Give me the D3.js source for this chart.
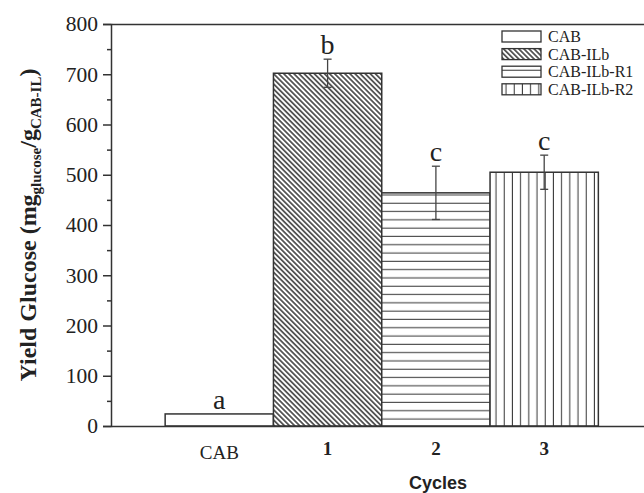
<!DOCTYPE html>
<html>
<head>
<meta charset="utf-8">
<script src="https://cdn.jsdelivr.net/npm/d3@7"></script>
<style>
  body { margin: 0; background: #fff; }
  svg { display: block; }
  .serif { font-family: "Liberation Serif", "DejaVu Serif", serif; fill: #222; }
</style>
</head>
<body>
<script>
// data
const categories = ["CAB", "1", "2", "3"];
const series = ["CAB", "CAB-ILb", "CAB-ILb-R1", "CAB-ILb-R2"];
const values = [24, 702, 464, 505];
const errors = [0, 28, 53, 34];
const letters = ["a", "b", "c", "c"];
const yTicks = [0, 100, 200, 300, 400, 500, 600, 700, 800];

const svgWidth = 644;
const svgHeight = 493;
const margin = { top: 24, left: 111, bottom: 67 };
const plotBottom = svgHeight - margin.bottom;

const svg = d3.select("body").append("svg")
  .attr("width", svgWidth).attr("height", svgHeight);

// patterns
const defs = svg.append("defs");
const diag = defs.append("pattern").attr("id", "p1")
  .attr("patternUnits", "userSpaceOnUse").attr("width", 3.6).attr("height", 4)
  .attr("patternTransform", "rotate(-45)");
diag.append("rect").attr("width", 3.6).attr("height", 4).attr("fill", "#fff");
diag.append("line").attr("x1", 0.9).attr("y1", 0).attr("x2", 0.9).attr("y2", 4)
  .attr("stroke", "#333").attr("stroke-width", 1.5);

const horiz = defs.append("pattern").attr("id", "p2")
  .attr("patternUnits", "userSpaceOnUse").attr("width", 8).attr("height", 8.3);
horiz.append("rect").attr("width", 8).attr("height", 8.3).attr("fill", "#fff");
horiz.append("line").attr("x1", 0).attr("y1", 4).attr("x2", 8).attr("y2", 4)
  .attr("stroke", "#333").attr("stroke-width", 1);

const vert = defs.append("pattern").attr("id", "p3")
  .attr("patternUnits", "userSpaceOnUse").attr("width", 8.2).attr("height", 8);
vert.append("rect").attr("width", 8.2).attr("height", 8).attr("fill", "#fff");
vert.append("line").attr("x1", 4).attr("y1", 0).attr("x2", 4).attr("y2", 8)
  .attr("stroke", "#333").attr("stroke-width", 1);

const fills = ["#fff", "url(#p1)", "url(#p2)", "url(#p3)"];

// scales
const x = d3.scaleLinear().domain([0, 5]).range([margin.left, margin.left + 5 * 108.3]);
const y = d3.scaleLinear().domain([0, 800]).range([plotBottom, margin.top]);

// bars
svg.selectAll(".bar").data(values).enter().append("rect")
  .attr("x", (d, i) => x(i + 0.5))
  .attr("y", d => y(d))
  .attr("width", x(1) - x(0))
  .attr("height", d => y(0) - y(d))
  .attr("fill", (d, i) => fills[i])
  .attr("stroke", "#333").attr("stroke-width", 1.5);

// error bars
const eb = svg.selectAll(".err").data(values.map((v, i) => ({ v, e: errors[i], i })).filter(d => d.e > 0))
  .enter().append("g").attr("stroke", "#444").attr("stroke-width", 1.3);
eb.append("line").attr("x1", d => x(d.i + 1)).attr("x2", d => x(d.i + 1))
  .attr("y1", d => y(d.v + d.e)).attr("y2", d => y(d.v - d.e));
eb.append("line").attr("x1", d => x(d.i + 1) - 4).attr("x2", d => x(d.i + 1) + 4)
  .attr("y1", d => y(d.v + d.e)).attr("y2", d => y(d.v + d.e));
eb.append("line").attr("x1", d => x(d.i + 1) - 4).attr("x2", d => x(d.i + 1) + 4)
  .attr("y1", d => y(d.v - d.e)).attr("y2", d => y(d.v - d.e));

// significance letters
svg.selectAll(".let").data(letters).enter().append("text")
  .attr("class", "serif")
  .attr("x", (d, i) => x(i + 1))
  .attr("y", (d, i) => y(values[i] + errors[i]) - 5)
  .attr("text-anchor", "middle")
  .attr("font-size", 28)
  .text(d => d);

// axes
const leftAxis = d3.axisLeft(y).tickValues(yTicks).tickSize(8).tickPadding(5);
const gy = svg.append("g").attr("transform", `translate(${margin.left},0)`).call(leftAxis);
gy.select(".domain").attr("stroke", "#333").attr("stroke-width", 1.5);
gy.selectAll(".tick line").attr("stroke", "#333").attr("stroke-width", 1.5);
gy.selectAll(".tick text").attr("class", "serif")
  .attr("font-size", 21.5).attr("fill", "#222");

const minor = d3.axisLeft(y).tickValues(d3.range(50, 800, 100)).tickSize(4).tickFormat("");
const gm = svg.append("g").attr("transform", `translate(${margin.left},0)`).call(minor);
gm.select(".domain").remove();
gm.selectAll(".tick line").attr("stroke", "#333").attr("stroke-width", 1.5);

// bottom and top lines
const bottomAxis = d3.axisBottom(x).tickValues([]).tickSizeOuter(0);
const gx = svg.append("g").attr("transform", `translate(0,${plotBottom})`).call(bottomAxis);
gx.select(".domain").attr("stroke", "#333").attr("stroke-width", 1.5);
const topAxis = d3.axisTop(x).tickValues([]).tickSizeOuter(0);
const gt = svg.append("g").attr("transform", `translate(0,${margin.top})`).call(topAxis);
gt.select(".domain").attr("stroke", "#333").attr("stroke-width", 1.5);

// category labels
svg.selectAll(".cat").data(categories).enter().append("text")
  .attr("class", "serif")
  .attr("x", (d, i) => x(i + 1))
  .attr("y", (d, i) => i === 0 ? 459 : 455)
  .attr("text-anchor", "middle")
  .attr("font-size", 19)
  .attr("font-weight", (d, i) => i === 0 ? "normal" : "bold")
  .text(d => d);

svg.append("text")
  .attr("x", 438).attr("y", 489)
  .attr("text-anchor", "middle")
  .attr("font-family", "Liberation Sans, Arial, sans-serif")
  .attr("font-weight", "bold").attr("font-size", 18).attr("fill", "#222")
  .text("Cycles");

// y title
const yt = svg.append("text").attr("class", "serif")
  .attr("transform", "translate(36,225) rotate(-90)")
  .attr("text-anchor", "middle")
  .attr("font-weight", "bold").attr("font-size", 24);
yt.append("tspan").text("Yield Glucose (mg");
yt.append("tspan").attr("font-size", 15).attr("dy", 5).text("glucose");
yt.append("tspan").attr("dy", -5).text("/g");
yt.append("tspan").attr("font-size", 15).attr("dy", 5).text("CAB-IL");
yt.append("tspan").attr("dy", -5).text(")");

// legend
const leg = svg.selectAll(".leg").data(series).enter().append("g")
  .attr("transform", (d, i) => `translate(502,${31 + i * 17.6})`);
leg.append("rect").attr("width", 39).attr("height", 11)
  .attr("fill", (d, i) => fills[i]).attr("stroke", "#333").attr("stroke-width", 1.3);
leg.append("text").attr("class", "serif")
  .attr("x", 46).attr("y", 11).attr("font-size", 16)
  .text(d => d);
</script>
</body>
</html>
